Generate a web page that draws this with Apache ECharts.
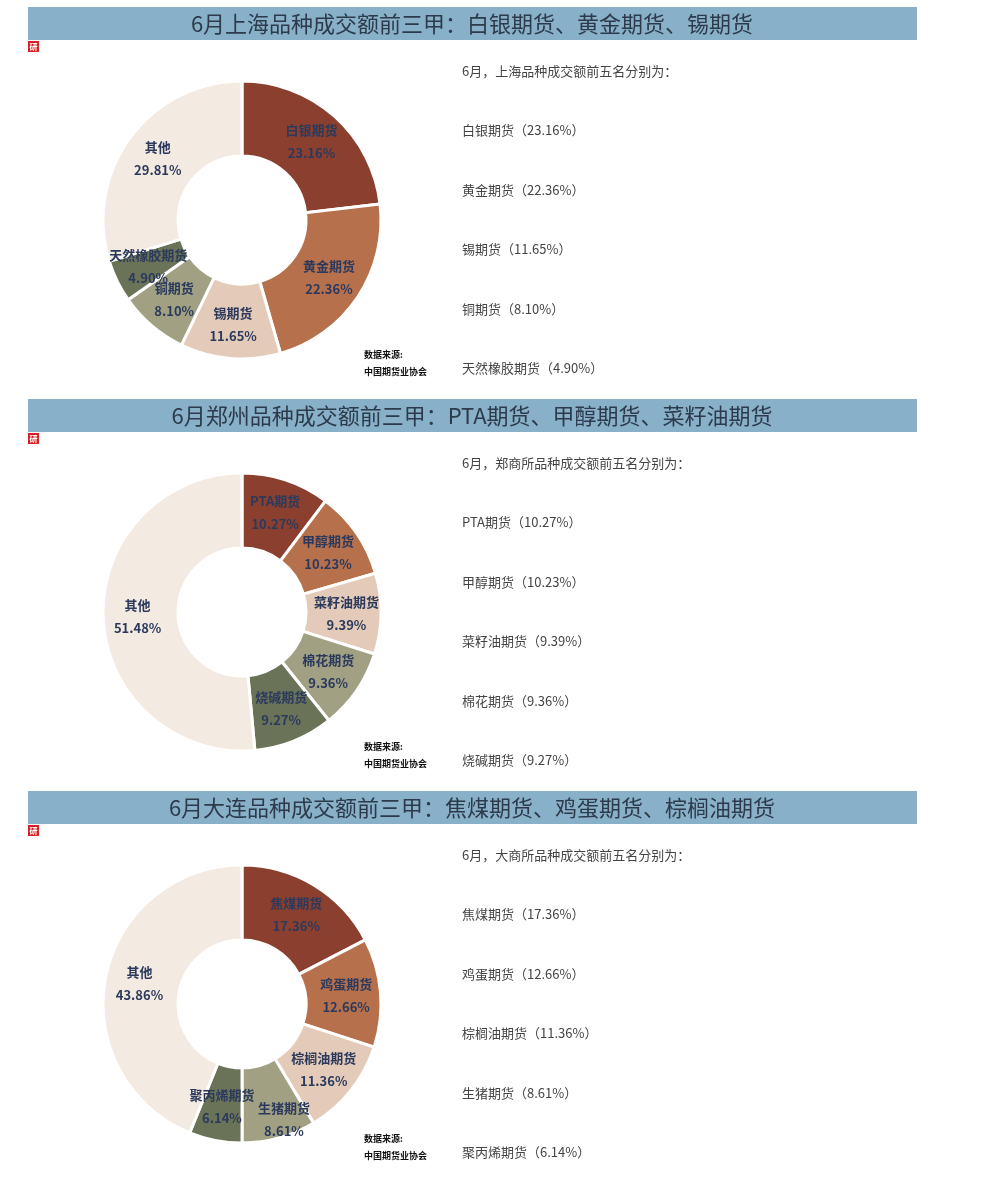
<!DOCTYPE html>
<html><head><meta charset="utf-8">
<script src="https://cdn.jsdelivr.net/npm/echarts@6/dist/echarts.min.js"></script>
<style>html,body{margin:0;padding:0;background:#fff;}#c{width:999px;height:1197px;}</style>
</head><body><div id="c"></div>
<script>
// ---- data ----
const shNames = ['白银期货','黄金期货','锡期货','铜期货','天然橡胶期货','其他'];
const shValues = [23.16,22.36,11.65,8.10,4.90,29.81];
const zzNames = ['PTA期货','甲醇期货','菜籽油期货','棉花期货','烧碱期货','其他'];
const zzValues = [10.27,10.23,9.39,9.36,9.27,51.48];
const dlNames = ['焦煤期货','鸡蛋期货','棕榈油期货','生猪期货','聚丙烯期货','其他'];
const dlValues = [17.36,12.66,11.36,8.61,6.14,43.86];
const titles = ['6月上海品种成交额前三甲：白银期货、黄金期货、锡期货','6月郑州品种成交额前三甲：PTA期货、甲醇期货、菜籽油期货','6月大连品种成交额前三甲：焦煤期货、鸡蛋期货、棕榈油期货'];
const listHeads = ['6月，上海品种成交额前五名分别为：','6月，郑商所品种成交额前五名分别为：','6月，大商所品种成交额前五名分别为：'];
const sourceLines = ['数据来源:','中国期货业协会'];

const colors = ['#8B3F2E','#B7704C','#E4CBB9','#A1A083','#6A7358','#F3EAE1'];
const FONT = '"Noto Sans CJK SC","Noto Sans",sans-serif';
const panels = [
  {names:shNames, values:shValues, top:7, labelOffsets:{}},
  {names:zzNames, values:zzValues, top:399, labelOffsets:{}},
  {names:dlNames, values:dlValues, top:791, labelOffsets:{3:[14,15]}}
];
const graphics = [];
const series = [];
panels.forEach((p,i)=>{
  const t = p.top;
  graphics.push({type:'rect',shape:{x:28,y:t,width:889,height:33},style:{fill:'#88B0C8'}});
  graphics.push({type:'text',x:472,y:t+16.5,style:{text:titles[i],fill:'#2C3A4B',font:'22px '+FONT,align:'center',verticalAlign:'middle'}});
  graphics.push({type:'rect',shape:{x:28,y:t+34,width:11,height:11},style:{fill:'#D42027'}});
  graphics.push({type:'text',x:33.5,y:t+39.5,style:{text:'研',fill:'#fff',font:'bold 8px '+FONT,align:'center',verticalAlign:'middle'}});
  graphics.push({type:'text',x:462,y:t+64,style:{text:listHeads[i],fill:'#444',font:'13px '+FONT,verticalAlign:'middle'}});
  for(let k=0;k<5;k++){
    graphics.push({type:'text',x:462,y:t+64+59.5*(k+1),style:{text:p.names[k]+'（'+p.values[k].toFixed(2)+'%）',fill:'#444',font:'13px '+FONT,verticalAlign:'middle'}});
  }
  graphics.push({type:'text',x:364,y:t+348,style:{text:sourceLines[0],fill:'#111',font:'bold 9px '+FONT,verticalAlign:'middle'}});
  graphics.push({type:'text',x:364,y:t+365,style:{text:sourceLines[1],fill:'#111',font:'bold 9px '+FONT,verticalAlign:'middle'}});
  series.push({
    type:'pie', center:[242, t+213], radius:[64,139], startAngle:90, clockwise:true,
    avoidLabelOverlap:false, animation:false, silent:true,
    itemStyle:{borderColor:'#fff',borderWidth:3},
    label:{show:true,position:'inside',formatter:(d)=>d.name+'\n'+d.value.toFixed(2)+'%',
      color:'#2B3A5C',fontSize:13,fontWeight:'bold',lineHeight:23,fontFamily:FONT},
    labelLayout:{hideOverlap:false},
    labelLine:{show:false},
    data:p.names.map((n,k)=>{
      const item = {name:n,value:p.values[k],itemStyle:{color:colors[k]}};
      if(p.labelOffsets[k]) item.label = {offset:p.labelOffsets[k]};
      return item;
    })
  });
});
const chart = echarts.init(document.getElementById('c'),null,{renderer:'canvas'});
chart.setOption({backgroundColor:'#fff',animation:false,series:series,graphic:graphics});
</script></body></html>
